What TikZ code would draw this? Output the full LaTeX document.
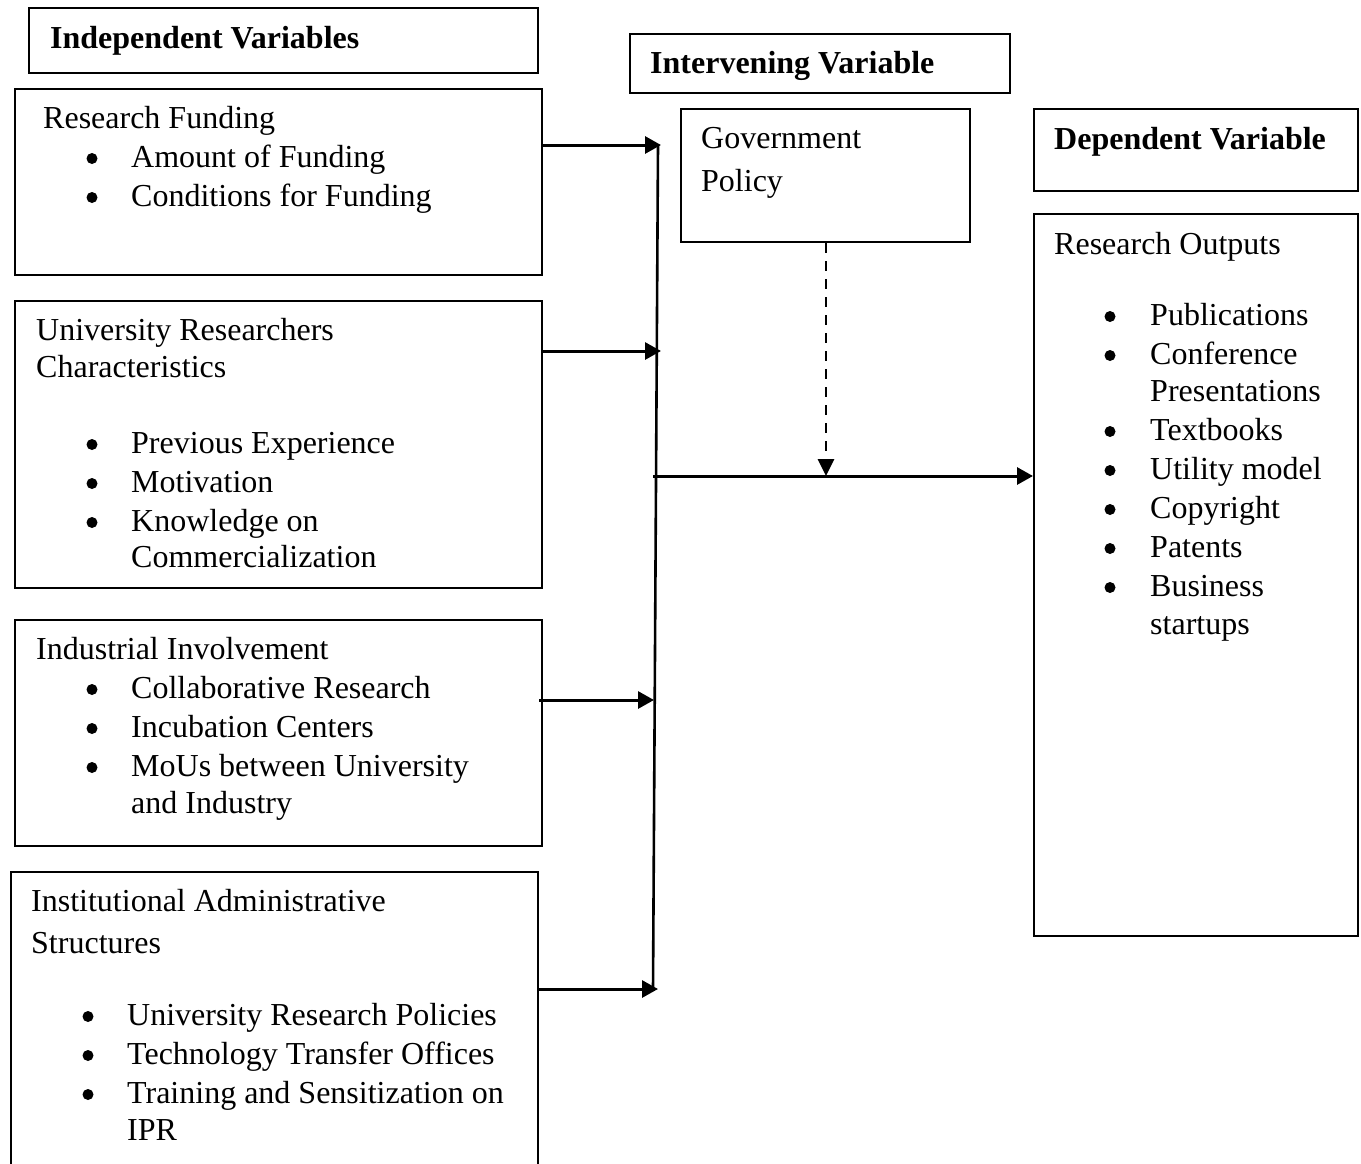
\documentclass[tikz,border=0pt]{standalone}
\usepackage{fontspec}
\setmainfont{Liberation Serif}
\usetikzlibrary{arrows.meta}
\tikzset{
  box/.style={draw=black, line width=2.3pt, rectangle, inner sep=0pt, anchor=north west},
  txt/.style={inner sep=0pt, anchor=base west, font=\fontsize{32}{38}\selectfont},
  btxt/.style={txt, font=\fontsize{32}{38}\selectfont\bfseries},
  bul/.style={circle, fill=black, inner sep=0pt, minimum size=11pt},
  arr/.style={line width=3pt, -{Triangle[length=16pt,width=17pt]}},
  ln/.style={line width=2.6pt},
  darr/.style={line width=2.8pt, dash pattern=on 10pt off 8pt, -{Triangle[length=17pt,width=16pt]}}
}
\newcommand{\bx}[5]{\node[box, minimum width=#4pt, minimum height=#5pt] (#1) at (#2,#3) {};}
\newcommand{\bl}[3]{\node[bul] (#1) at (#2,#3-8.5) {};}
\begin{document}
\begin{tikzpicture}[x=1pt,y=-1pt]
\useasboundingbox (0,0) rectangle (1361,1163);
% boxes
\bx{iv}{28}{7}{509}{65}
\bx{rf}{14}{88}{527}{186}
\bx{urc}{14}{300}{527}{287}
\bx{ii}{14}{619}{527}{226}
\bx{ias}{10}{871}{527}{320}
\bx{intv}{629}{33}{380}{59}
\bx{gp}{680}{108}{289}{133}
\bx{dv}{1033}{108}{324}{82}
\bx{ro}{1033}{213}{324}{722}
% headers
\node[btxt] (ivt) at (50,48) {Independent Variables};
\node[btxt] (intvt) at (650,73) {Intervening Variable};
\node[btxt] (dvt) at (1054,149) {Dependent Variable};
% research funding
\node[txt] (rf0) at (43,128) {Research Funding};
\bl{rfb1}{92}{167}\node[txt] (rf1) at (131,167) {Amount of Funding};
\bl{rfb2}{92}{206}\node[txt] (rf2) at (131,206) {Conditions for Funding};
% URC
\node[txt] (urc0) at (36,340) {University Researchers};
\node[txt] (urc00) at (36,377) {Characteristics};
\bl{urcb1}{92}{453}\node[txt] (urc1) at (131,453) {Previous Experience};
\bl{urcb2}{92}{492}\node[txt] (urc2) at (131,492) {Motivation};
\bl{urcb3}{92}{531}\node[txt] (urc3) at (131,531) {Knowledge on};
\node[txt] (urc4) at (131,567) {Commercialization};
% II
\node[txt] (ii0) at (36,659) {Industrial Involvement};
\bl{iib1}{92}{698}\node[txt] (ii1) at (131,698) {Collaborative Research};
\bl{iib2}{92}{737}\node[txt] (ii2) at (131,737) {Incubation Centers};
\bl{iib3}{92}{776}\node[txt] (ii3) at (131,776) {MoUs between University};
\node[txt] (ii4) at (131,813) {and Industry};
% IAS
\node[txt] (ias0) at (31,911) {Institutional Administrative};
\node[txt] (ias00) at (31,953) {Structures};
\bl{iasb1}{88}{1025}\node[txt] (ias1) at (127,1025) {University Research Policies};
\bl{iasb2}{88}{1064}\node[txt] (ias2) at (127,1064) {Technology Transfer Offices};
\bl{iasb3}{88}{1103}\node[txt] (ias3) at (127,1103) {Training and Sensitization on};
\node[txt] (ias4) at (127,1140) {IPR};
% Government policy
\node[txt] (gp1) at (701,148) {Government};
\node[txt] (gp2) at (701,191) {Policy};
% research outputs
\node[txt] (ro0) at (1054,254) {Research Outputs};
\bl{rob1}{1110}{325}\node[txt] (ro1) at (1150,325) {Publications};
\bl{rob2}{1110}{364}\node[txt] (ro2) at (1150,364) {Conference};
\node[txt] (ro3) at (1150,401) {Presentations};
\bl{rob3}{1110}{440}\node[txt] (ro4) at (1150,440) {Textbooks};
\bl{rob4}{1110}{479}\node[txt] (ro5) at (1150,479) {Utility model};
\bl{rob5}{1110}{518}\node[txt] (ro6) at (1150,518) {Copyright};
\bl{rob6}{1110}{557}\node[txt] (ro7) at (1150,557) {Patents};
\bl{rob7}{1110}{596}\node[txt] (ro8) at (1150,596) {Business};
\node[txt] (ro9) at (1150,634) {startups};
% connectors
\coordinate (vtop) at (658,145);
\coordinate (vbot) at (653,990);
\coordinate (a1) at (661,145);
\coordinate (a2) at (661,351);
\coordinate (a3) at (654,700);
\coordinate (a4) at (658,989);
\coordinate (hs) at (653,476);
\coordinate (mid) at (826,476);
\draw[ln] (vtop) -- (vbot);
\draw[arr] (rf.east |- a1) -- (a1);
\draw[arr] (urc.east |- a2) -- (a2);
\draw[arr] ([xshift=-4pt]ii.east |- a3) -- (a3);
\draw[arr] (ias.east |- a4) -- (a4);
\draw[arr] (hs) -- (ro.west |- hs);
\draw[darr] (gp.south -| mid) -- (mid);
\end{tikzpicture}
\end{document}
